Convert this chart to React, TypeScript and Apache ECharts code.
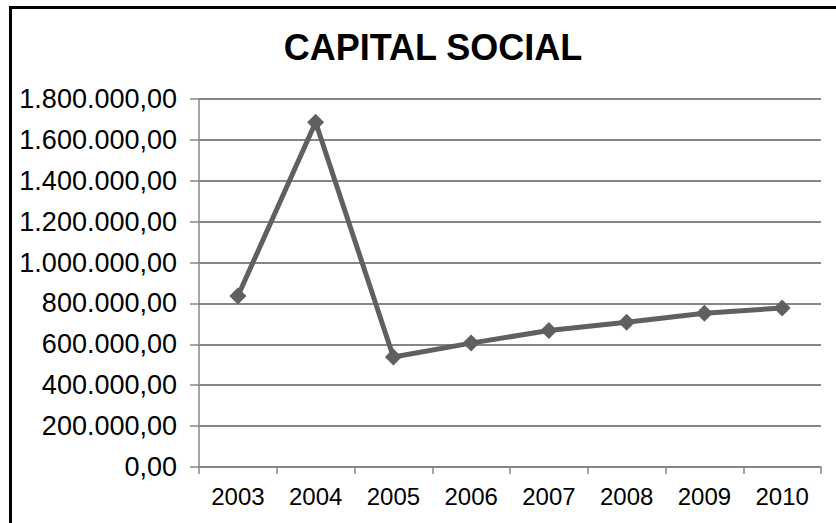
import React, { useEffect, useRef } from "react";
import * as echarts from "echarts";

const years = ["2003", "2004", "2005", "2006", "2007", "2008", "2009", "2010"];
const capitalSocial = [836000, 1686000, 538000, 606000, 668000, 708000, 752000, 778000];
const yMin = 0;
const yMax = 1800000;
const yInterval = 200000;
const titleText = "CAPITAL SOCIAL";

function formatBR(v: number): string {
  const s = Math.round(v).toString();
  const parts: string[] = [];
  for (let i = s.length; i > 0; i -= 3) {
    parts.unshift(s.substring(Math.max(0, i - 3), i));
  }
  return parts.join(".") + ",00";
}

export default function App() {
  const ref = useRef<HTMLDivElement>(null);
  useEffect(() => {
    if (!ref.current) return;
    const chart = echarts.init(ref.current, undefined, { renderer: "svg" });
    chart.setOption({
      animation: false,
      backgroundColor: "#ffffff",
      title: {
        text: titleText,
        left: 428,
        top: 24,
        textAlign: "center",
        textStyle: {
          fontFamily: "Liberation Sans",
          fontSize: 36,
          fontWeight: "bold",
          color: "#000000",
        },
      },
      graphic: [
        {
          type: "rect",
          shape: { x: 10.5, y: 7.5, width: 1000, height: 1000 },
          style: { fill: "none", stroke: "#000000", lineWidth: 3 },
          silent: true,
        },
      ],
      grid: { left: 199, right: 15, top: 99, bottom: 56, containLabel: false },
      xAxis: {
        type: "category",
        data: years,
        boundaryGap: true,
        axisLine: { show: true, lineStyle: { color: "#868686", width: 1.5 } },
        axisTick: { show: true, length: 7, alignWithLabel: false, lineStyle: { color: "#868686", width: 1.5 } },
        axisLabel: {
          margin: 17,
          fontFamily: "Liberation Sans",
          fontSize: 24,
          color: "#000000",
        },
        splitLine: { show: false },
      },
      yAxis: {
        type: "value",
        min: yMin,
        max: yMax,
        interval: yInterval,
        axisLine: { show: true, lineStyle: { color: "#868686", width: 1.5 } },
        axisTick: { show: true, length: 9, lineStyle: { color: "#868686", width: 1.5 } },
        axisLabel: {
          margin: 22,
          fontFamily: "Liberation Sans",
          fontSize: 27,
          color: "#000000",
          formatter: (v: number) => formatBR(v),
        },
        splitLine: { show: true, lineStyle: { color: "#868686", width: 2 } },
      },
      series: [
        {
          type: "line",
          data: capitalSocial,
          symbol: "diamond",
          symbolSize: 17,
          lineStyle: { color: "#606060", width: 5 },
          itemStyle: { color: "#606060" },
        },
      ],
    });
    return () => chart.dispose();
  }, []);
  return (
    <div
      ref={ref}
      style={{ position: "fixed", left: 0, top: 0, width: 836, height: 523 }}
    />
  );
}
